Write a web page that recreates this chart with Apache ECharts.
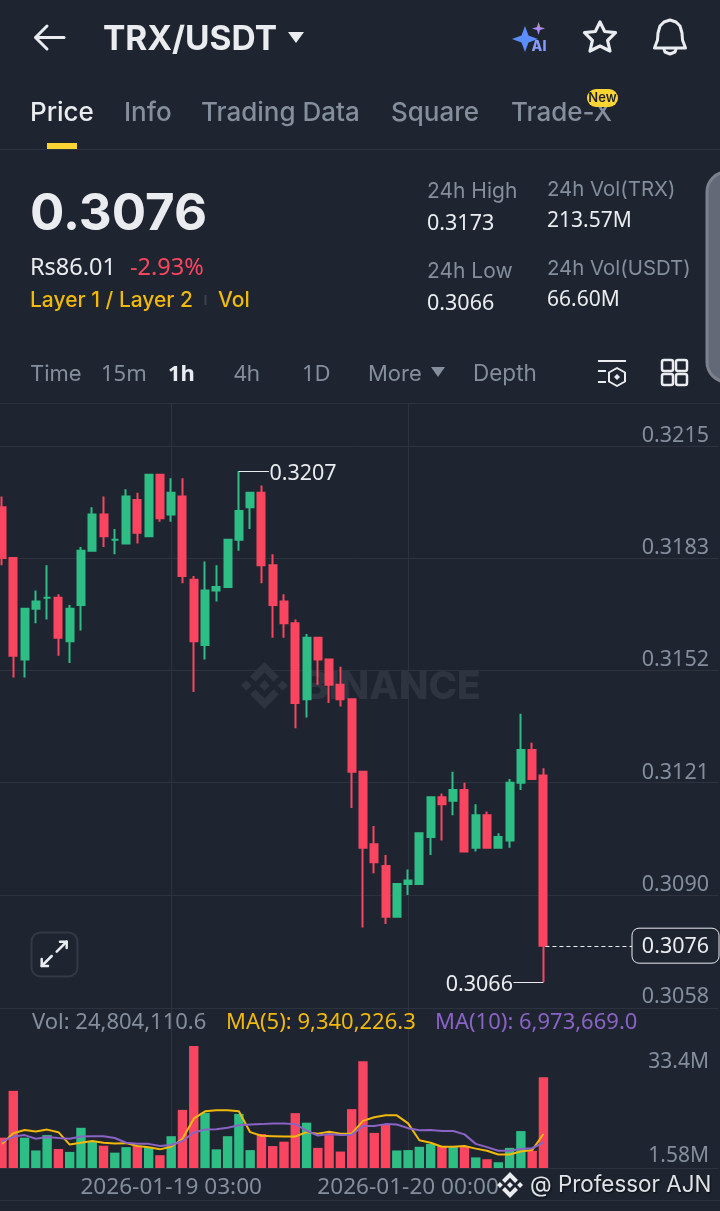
<!DOCTYPE html>
<html><head><meta charset="utf-8">
<style>html,body{margin:0;padding:0;background:#1E2530}#c{width:720px;height:1211px}</style>
<script src="https://cdn.jsdelivr.net/npm/echarts@6/dist/echarts.min.js"></script>
</head><body><div id="c"></div>
<script>
const categories = [
'2026-01-18 12:00','2026-01-18 13:00','2026-01-18 14:00','2026-01-18 15:00','2026-01-18 16:00','2026-01-18 17:00','2026-01-18 18:00','2026-01-18 19:00','2026-01-18 20:00','2026-01-18 21:00','2026-01-18 22:00','2026-01-18 23:00',
'2026-01-19 00:00','2026-01-19 01:00','2026-01-19 02:00','2026-01-19 03:00','2026-01-19 04:00','2026-01-19 05:00','2026-01-19 06:00','2026-01-19 07:00','2026-01-19 08:00','2026-01-19 09:00','2026-01-19 10:00','2026-01-19 11:00',
'2026-01-19 12:00','2026-01-19 13:00','2026-01-19 14:00','2026-01-19 15:00','2026-01-19 16:00','2026-01-19 17:00','2026-01-19 18:00','2026-01-19 19:00','2026-01-19 20:00','2026-01-19 21:00','2026-01-19 22:00','2026-01-19 23:00',
'2026-01-20 00:00','2026-01-20 01:00','2026-01-20 02:00','2026-01-20 03:00','2026-01-20 04:00','2026-01-20 05:00','2026-01-20 06:00','2026-01-20 07:00','2026-01-20 08:00','2026-01-20 09:00','2026-01-20 10:00','2026-01-20 11:00','2026-01-20 12:00',
'','','','','','','','','','','','','','',''];
const opens  = [.3197,.3183,.3155,.3169,.3172,.3172,.3160,.3170,.3185,.3195,.3188,.3187,.3199,.3189,.3206,.3195,.3200,.3177,.3159,.3174,.3175,.3188,.3197,.3201,.3181,.3171,.3165,.3144,.3161,.3155,.3148,.3144,.3124,.3104,.3098,.3084,.3093,.3093,.3106,.3117,.3116,.3119,.3103,.3112,.3103,.3105,.3121,.3130,.3123];
const closes = [.3183,.3156,.3169,.3171,.3172,.3161,.3169,.3185,.3195,.3189,.3188,.3200,.3190,.3206,.3194,.3201,.3178,.3160,.3174,.3175,.3188,.3196,.3201,.3181,.3170,.3165,.3143,.3161,.3155,.3148,.3144,.3124,.3103,.3099,.3084,.3093,.3094,.3107,.3117,.3115,.3119,.3102,.3112,.3103,.3106,.3121,.3130,.3122,.3076];
const lows   = [.3181,.3150,.3150,.3165,.3166,.3156,.3154,.3163,.3185,.3186,.3184,.3187,.3187,.3189,.3193,.3193,.3176,.3146,.3155,.3171,.3175,.3185,.3191,.3176,.3161,.3161,.3136,.3139,.3148,.3143,.3142,.3114,.3081,.3096,.3082,.3084,.3090,.3093,.3101,.3105,.3112,.3102,.3102,.3103,.3103,.3103,.3119,.3122,.3066];
const highs  = [.3200,.3183,.3169,.3174,.3181,.3173,.3170,.3186,.3197,.3200,.3191,.3202,.3201,.3206,.3206,.3205,.3205,.3178,.3182,.3181,.3188,.3207,.3201,.3203,.3184,.3173,.3166,.3162,.3161,.3155,.3153,.3144,.3124,.3109,.3101,.3093,.3097,.3107,.3117,.3118,.3124,.3121,.3115,.3113,.3107,.3122,.3140,.3132,.3125];
const volumes = [8.3,21.1,8.3,4.8,9.0,5.2,4.4,11.0,7.2,6.1,4.2,5.7,6.0,5.7,3.5,8.7,15.9,33.4,15.1,5.1,8.7,14.8,4.9,9.3,6.0,7.2,15.0,12.4,5.5,9.0,4.5,16.1,29.2,9.6,12.0,4.8,4.9,5.8,6.6,6.0,5.8,6.0,2.9,2.4,1.58,5.5,10.1,4.7,24.8];
const ma5  = [6.6,9.5,10.4,10.0,10.5,9.8,6.4,6.9,7.4,6.9,6.7,6.8,6.0,5.7,5.1,5.8,8.0,13.5,15.5,15.8,15.8,15.5,9.8,8.8,8.7,8.6,8.6,9.8,9.4,9.9,9.4,9.4,12.9,13.9,14.4,14.4,12.2,7.6,6.9,5.8,5.8,6.0,5.3,4.7,3.7,3.7,4.5,4.9,9.3];
const ma10 = [7.2,8.6,9.0,8.0,8.5,8.2,8.0,8.6,8.7,8.7,8.2,6.9,6.6,6.6,6.0,6.3,7.4,9.7,10.5,10.6,11.0,11.7,11.9,12.0,12.2,12.2,12.0,10.2,8.9,9.3,9.0,9.1,11.5,11.5,12.0,11.9,10.9,10.3,10.4,10.1,10.1,9.2,6.6,5.7,4.7,4.7,5.2,5.4,7.0];
const priceTicks = [0.32139,0.3183,0.3152,0.3121,0.3090,0.30588];
const priceTickLabels = ['0.3215','0.3183','0.3152','0.3121','0.3090','0.3058'];
const volTicks = [1.58,33.4];
const volTickLabels = ['1.58M','33.4M'];
const timeTickIndex = [15,36];
const highMark = [21,0.3207,'0.3207'];
const lowMark = [48,0.3066,'0.3066'];
const lastMark = [48,0.3076,'0.3076'];

const BG='#1E2530', RED='#FA4560', GREEN='#2EBD85', GRID='#2D333E', GREY='#848E9C', WHITE='#EAECEF', YEL='#F0B90B', PUR='#8A63C4';
const FONT='Inter, "Noto Sans", sans-serif';
const NUM='"Noto Sans", Inter, sans-serif';
const T=(x,y,text,size,fill,weight,align,fam)=>({type:'text',silent:true,x,y:y+1.5,z:10,style:{text,fill,font:(weight||400)+' '+size+'px '+(fam||FONT),align:align||'left',verticalAlign:'middle'}});
const L=(x1,y1,x2,y2,stroke,w)=>({type:'line',silent:true,z:1,shape:{x1,y1,x2,y2},style:{stroke,lineWidth:w||1}});
const PL=(points,stroke,w)=>({type:'polyline',silent:true,z:10,shape:{points},style:{stroke,lineWidth:w,fill:null,lineCap:'round',lineJoin:'round'}});
const PG=(points,fill,z)=>({type:'polygon',silent:true,z:z==null?10:z,shape:{points},style:{fill}});
const PGS=(points,stroke,w)=>({type:'polygon',silent:true,z:10,shape:{points},style:{fill:null,stroke,lineWidth:w,lineJoin:'round'}});
const R=(x,y,width,height,r,fill,stroke,w,z)=>({type:'rect',silent:true,z:z==null?10:z,shape:{x,y,width,height,r},style:{fill,stroke,lineWidth:w||0}});
const logoParts=[[[.5,0],[.807,.307],[.694,.42],[.5,.224],[.306,.42],[.193,.307]],[[.5,1],[.807,.693],[.694,.58],[.5,.776],[.306,.58],[.193,.693]],[[0,.5],[.113,.387],[.226,.5],[.113,.613]],[[1,.5],[.887,.387],[.774,.5],[.887,.613]],[[.5,.385],[.615,.5],[.5,.615],[.385,.5]]];
const logo=(x,y,s,fill,z)=>logoParts.map(p=>PG(p.map(q=>[x+q[0]*s,y+q[1]*s]),fill,z));

const chrome=[
 L(0,149.5,720,149.5,GRID),L(0,403.5,720,403.5,GRID),L(0,1200.5,720,1200.5,GRID),
 PL([[36,37.5],[64,37.5]],WHITE,3),PL([[47,26],[35.5,37.5],[47,49]],WHITE,3),
 T(103,38,'TRX/USDT',33.5,WHITE,700),
 PG([[288,32],[304,32],[296,43]],WHITE),
 PG([[525,26],[528.5,35.5],[538,39],[528.5,42.5],[525,52],[521.5,42.5],[512,39],[521.5,35.5]],'#5C8DFF'),
 PG([[538.5,22],[540,27],[545,28.5],[540,30],[538.5,35],[537,30],[532,28.5],[537,27]],'#A98BF5'),
 PG([[538.5,22],[540,27],[545,28.5],[538.5,27]],'#C99A6B'),
 T(539,45.5,'AI',14,'#8A9BFF',800,'center'),
 PGS([[600,22],[604.7,31.5],[615.5,32.7],[607.6,40.5],[610,51],[600,46],[590,51],[592.4,40.5],[584.5,32.7],[595.3,31.5]],WHITE,3.2),
 PGS([[670,20],[664,22],[660,26],[658,33],[657.5,40],[656,44],[654.5,48],[685.5,48],[684,44],[682.5,40],[682,33],[680,26],[676,22]],WHITE,3),
 PL([[664,49],[665,52],[670,54],[675,52],[676,49]],WHITE,3),
 T(30,111.5,'Price',26,WHITE,500),T(124,111.5,'Info',26,GREY,500),T(201,111.5,'Trading Data',26,GREY,500),T(391,111.5,'Square',26,GREY,500),T(511,111.5,'Trade-X',26,GREY,500),
 R(587,89,31,18,9,'#FCD535'),T(602.5,97,'New',13,'#1E2329',600,'center'),
 R(47,143,30,6,0,'#FCD535'),
 T(30,213,'0.3076',51,WHITE,700),
 T(30,267,'Rs86.01',23.5,WHITE,400,'left',NUM),T(130,267,'-2.93%',23.5,RED,400,'left',NUM),
 T(30,299,'Layer 1 / Layer 2',21,YEL,500),L(205.5,295,205.5,305,'#3a414c',2),T(218,299,'Vol',21,YEL,500),
 T(427,190,'24h High',21,GREY),T(427,222,'0.3173',21.5,WHITE,400,'left',NUM),T(427,270,'24h Low',21,GREY),T(427,302,'0.3066',21.5,WHITE,400,'left',NUM),
 T(547,188,'24h Vol(TRX)',20.4,GREY),T(547,220,'213.57M',21,WHITE,400,'left',NUM),T(547,267,'24h Vol(USDT)',20.4,GREY),T(547,299,'66.60M',21,WHITE,400,'left',NUM),
 R(707,172,40,210,20,'#636976','#7C818D',3),
 T(30,373,'Time',22,GREY),T(101,373,'15m',22,GREY,400,'left',NUM),T(168,373,'1h',22,WHITE,700,'left',NUM),T(234,373,'4h',22,GREY,400,'left',NUM),T(302,373,'1D',22,GREY,400,'left',NUM),T(368,373,'More',22,GREY),
 PG([[431,367],[445,367],[438,377]],GREY),T(473,373,'Depth',22.5,GREY),
 L(598,361,626,361,WHITE,2),L(598,371,606,371,WHITE,2),L(598,382,606,382,WHITE,2),
 PGS([[617,368],[625,372.5],[625,381.5],[617,386],[609,381.5],[609,372.5]],WHITE,2),PG([[617,374],[620,377],[617,380],[614,377]],WHITE),
 R(662,360,11,11,2,null,WHITE,2.5),R(676,360,11,11,2,null,WHITE,2.5),R(662,374,11,11,2,null,WHITE,2.5),R(676,374,11,11,2,null,WHITE,2.5),
 ...logo(241,662,47,'#2E3540',0),
 {type:'text',silent:true,x:303,y:687,z:0,style:{text:'BINANCE',fill:'#2E3540',font:'800 38.6px '+FONT,align:'left',verticalAlign:'middle'}},
 R(31.5,932.5,46,44,9,null,'#333A46',2),
 PL([[56.7,951.7],[66.7,941.7]],WHITE,2.5),PL([[60,941.7],[66.7,941.7],[66.7,948]],WHITE,2.5),
 PL([[51.7,956],[41.7,966]],WHITE,2.5),PL([[41.7,959],[41.7,966],[48,966]],WHITE,2.5),
 T(32,1021.5,'Vol: 24,804,110.6',22,GREY,400,'left',NUM),T(226,1021.5,'MA(5): 9,340,226.3',22,YEL,400,'left',NUM),T(435,1021.5,'MA(10): 6,973,669.0',22,PUR,400,'left',NUM),
 ...logo(497,1172,26,'#EAECEF'),
 {type:'text',silent:true,x:530,y:1185,z:10,style:{text:'@ Professor AJN',fill:'#DFE2E6',font:'400 22.4px '+FONT,align:'left',verticalAlign:'middle',textShadowColor:'rgba(0,0,0,.7)',textShadowBlur:2,textShadowOffsetX:1,textShadowOffsetY:1}}
];

const candleData=opens.map((o,i)=>[o,closes[i],lows[i],highs[i]]);
const isTime=i=>timeTickIndex.includes(i);
const calloutSeries={type:'custom',xAxisIndex:0,yAxisIndex:0,z:6,silent:true,data:[highMark,lowMark],encode:{x:0,y:1},
 renderItem(params,api){
  const high=params.dataIndex===0, p=api.coord([api.value(0),api.value(1)]);
  const txt=(high?highMark:lowMark)[2];
  return {type:'group',children:[
   {type:'line',shape:{x1:p[0],y1:Math.round(p[1])+.5,x2:p[0]+(high?30:-30),y2:Math.round(p[1])+.5},style:{stroke:WHITE,lineWidth:1}},
   {type:'text',x:p[0]+(high?30.5:-30.5),y:p[1]+(high?3:2.5),style:{text:txt,fill:WHITE,font:'400 21.5px '+NUM,align:high?'left':'right',verticalAlign:'middle'}}
  ]};
 }};
const lastSeries={type:'custom',xAxisIndex:0,yAxisIndex:0,z:6,silent:true,data:[lastMark],encode:{x:0,y:1},
 renderItem(params,api){
  const p=api.coord([api.value(0),api.value(1)]);
  return {type:'group',children:[
   {type:'line',shape:{x1:p[0]+2,y1:Math.round(p[1])+.5,x2:632,y2:Math.round(p[1])+.5},style:{stroke:WHITE,lineWidth:1,lineDash:[4,3]}},
   {type:'rect',shape:{x:632,y:p[1]-17.5,width:87,height:35,r:7},style:{fill:BG,stroke:WHITE,lineWidth:1}},
   {type:'text',x:675.5,y:p[1]+1,style:{text:lastMark[2],fill:WHITE,font:'400 21.5px '+NUM,align:'center',verticalAlign:'middle'}}
  ]};
 }};

const chart=echarts.init(document.getElementById('c'),null,{renderer:'canvas',width:720,height:1211});
chart.setOption({
 animation:false,backgroundColor:BG,
 graphic:{elements:chrome},
 grid:[{left:-3.64,top:404,width:721.92,height:604,outerBoundsMode:'none'},{left:-3.64,top:1008,width:721.92,height:160,outerBoundsMode:'none'}],
 xAxis:[
  {type:'category',gridIndex:0,data:categories,boundaryGap:true,axisLine:{show:false},axisTick:{show:false},axisLabel:{show:false},
   splitLine:{show:true,alignWithLabel:true,interval:(i)=>isTime(i),lineStyle:{color:GRID,width:1}}},
  {type:'category',gridIndex:1,data:categories,boundaryGap:true,axisLine:{show:true,lineStyle:{color:GRID}},axisTick:{show:false},
   axisLabel:{show:true,interval:(i)=>isTime(i),margin:8,color:GREY,fontFamily:NUM,fontSize:22.6,hideOverlap:false},
   splitLine:{show:true,alignWithLabel:true,interval:(i)=>isTime(i),lineStyle:{color:GRID,width:1}}}
 ],
 yAxis:[
  {type:'value',gridIndex:0,position:'right',min:0.30588,max:0.32255,scale:true,
   axisLine:{show:false},axisTick:{show:false,customValues:priceTicks},
   splitLine:{show:true,lineStyle:{color:GRID,width:1}},
   axisLabel:{inside:true,margin:9.3,customValues:priceTicks,color:GREY,fontFamily:NUM,fontSize:21.5,verticalAlign:'bottom',lineHeight:20,
    formatter:v=>{const i=priceTicks.indexOf(v);return i===5?'{e|'+priceTickLabels[i]+'}':priceTickLabels[i];},
    rich:{e:{color:GREY,fontFamily:NUM,fontSize:21.5,lineHeight:20,padding:[0,0,2,0]}}}},
  {type:'value',gridIndex:1,position:'right',min:0,max:43.76,
   axisLine:{show:false},axisTick:{show:false,customValues:volTicks},splitLine:{show:false},
   axisLabel:{inside:true,margin:9.3,customValues:volTicks,color:GREY,fontFamily:NUM,fontSize:21,
    formatter:v=>{const i=volTicks.indexOf(v);return '{'+(i===0?'b':'t')+'|'+volTickLabels[i]+'}';},
    rich:{t:{color:GREY,fontFamily:NUM,fontSize:21,padding:[32,0,0,0]},b:{color:GREY,fontFamily:NUM,fontSize:21,padding:[0,0,12,0]}}}}
 ],
 series:[
  {type:'candlestick',xAxisIndex:0,yAxisIndex:0,data:candleData,barWidth:7.5,silent:true,z:3,
   itemStyle:{color:GREEN,color0:RED,borderColor:GREEN,borderColor0:RED,borderColorDoji:GREEN,borderWidth:2}},
  calloutSeries,lastSeries,
  {type:'bar',xAxisIndex:1,yAxisIndex:1,data:volumes,barWidth:9.4,silent:true,z:3,
   itemStyle:{color:p=>closes[p.dataIndex]>=opens[p.dataIndex]?GREEN:RED}},
  {type:'line',name:'MA(5)',xAxisIndex:1,yAxisIndex:1,data:ma5,showSymbol:false,silent:true,z:4,lineStyle:{color:YEL,width:2}},
  {type:'line',name:'MA(10)',xAxisIndex:1,yAxisIndex:1,data:ma10,showSymbol:false,silent:true,z:5,lineStyle:{color:PUR,width:2}}
 ]
});
</script></body></html>
